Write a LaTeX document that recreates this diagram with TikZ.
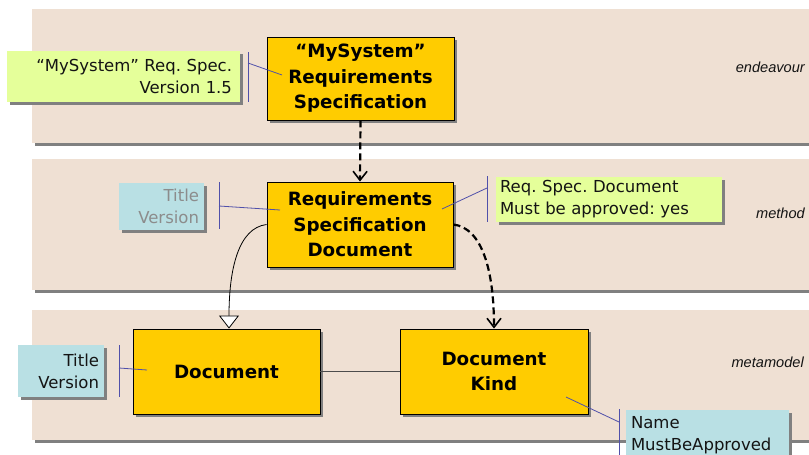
\documentclass[tikz,border=0pt]{standalone}
\usepackage{fontspec}
\setmainfont{DejaVu Sans}
\newfontfamily\lblfont{Liberation Sans}
\usetikzlibrary{arrows.meta,shadows}
\frenchspacing
\definecolor{band}{RGB}{239,224,211}
\definecolor{boxy}{RGB}{255,204,0}
\definecolor{gnotec}{RGB}{229,255,154}
\definecolor{bnotec}{RGB}{185,224,228}
\definecolor{shad}{RGB}{128,128,128}
\definecolor{tick}{RGB}{80,80,170}
\definecolor{ink}{RGB}{20,20,20}
\definecolor{greytext}{RGB}{140,140,140}
\tikzset{
  bandfill/.style={fill=band},
  bandshadow/.style={fill=shad},
  cls/.style={draw=black, line width=0.9pt, fill=boxy, align=center, inner sep=0pt,
    text=black, font=\fontsize{18.3}{25.5}\selectfont\bfseries,
    drop shadow={shadow xshift=3pt,shadow yshift=-3pt,fill=shad,opacity=1}},
  notebase/.style={inner ysep=0pt, text=ink, font=\fontsize{16.5}{22}\selectfont,
    drop shadow={shadow xshift=3pt,shadow yshift=-3pt,fill=shad,opacity=1}},
  gnote/.style={notebase, fill=gnotec},
  bnote/.style={notebase, fill=bnotec},
  tickline/.style={draw=tick, line width=0.8pt},
  lbl/.style={font=\lblfont\itshape\fontsize{14.6}{16}\selectfont, text=ink, anchor=east, inner sep=0pt},
  dep/.style={line width=2.2pt, dash pattern=on 7pt off 4pt,
    -{Straight Barb[length=9pt,width=14pt,line width=1.6pt]}},
  gen/.style={line width=0.8pt, -{Triangle[open,fill=white,length=13pt,width=20pt,line width=0.8pt]}},
  assoc/.style={draw=black!70, line width=1pt}
}
\begin{document}
\begin{tikzpicture}[x=1pt,y=-1pt]
\useasboundingbox (0,0) rectangle (809,455);
\clip (0,0) rectangle (809,455);
% bands
\fill[bandshadow] (35,12) rectangle (815,146);
\fill[bandfill] (32,9) rectangle (812,143);
\fill[bandshadow] (35,162) rectangle (815,293);
\fill[bandfill] (32,159) rectangle (812,290);
\fill[bandshadow] (35,313) rectangle (815,443);
\fill[bandfill] (32,310) rectangle (812,440);
\node[lbl] (l1) at (805,67) {endeavour};
\node[lbl] (l2) at (805,213) {method};
\node[lbl] (l3) at (804,362) {metamodel};
% classes
\node[cls, minimum width=187pt, minimum height=83pt] (b1) at (360.5,78.5) {“MySystem”\\Requirements\\Specification};
\node[cls, minimum width=186pt, minimum height=85pt] (b2) at (360,224.5) {Requirements\\Specification\\Document};
\node[cls, minimum width=187pt, minimum height=85pt] (b3) at (226.5,371.5) {Document};
\node[cls, minimum width=188pt, minimum height=85pt] (b4) at (494,371.5) {Document\\Kind};
% notes
\node[gnote, text width=217pt, inner xsep=8pt, minimum height=51pt, align=right] (n1) at (123.5,76.5) {“MySystem” Req. Spec.\\Version 1.5};
\node[bnote, text width=75pt, inner xsep=5pt, minimum height=47pt, align=right, text=greytext] (n2) at (161.5,206.5) {Title\\Version};
\node[gnote, text width=218pt, inner xsep=4pt, minimum height=45pt, align=left] (n3) at (609,199.5) {Req. Spec. Document\\Must be approved: yes};
\node[bnote, text width=76pt, inner xsep=5pt, minimum height=52pt, align=right] (n4) at (61,371) {Title\\Version};
\node[bnote, text width=153pt, inner xsep=5pt, minimum height=50pt, align=left] (n5) at (707.5,435) {Name\\MustBeApproved};
% note attachments
\coordinate (t1a) at (248,52); \coordinate (t1b) at (248,102);
\coordinate (t1c) at (248,63); \coordinate (t1d) at (282,75);
\draw[tickline] (t1a) -- (t1b); \draw[tickline] (t1c) -- (t1d);
\coordinate (t2a) at (219,182); \coordinate (t2b) at (219,229);
\coordinate (t2c) at (219,206); \coordinate (t2d) at (280,210);
\draw[tickline] (t2a) -- (t2b); \draw[tickline] (t2c) -- (t2d);
\coordinate (t3a) at (487,176); \coordinate (t3b) at (487,222);
\coordinate (t3c) at (487,188); \coordinate (t3d) at (442,209);
\draw[tickline] (t3a) -- (t3b); \draw[tickline] (t3c) -- (t3d);
\coordinate (t4a) at (119,345); \coordinate (t4b) at (119,397);
\coordinate (t4c) at (119,368); \coordinate (t4d) at (147,370);
\draw[tickline] (t4a) -- (t4b); \draw[tickline] (t4c) -- (t4d);
\coordinate (t5a) at (619,409); \coordinate (t5b) at (619,460);
\coordinate (t5c) at (619,422); \coordinate (t5d) at (566,397);
\draw[tickline] (t5a) -- (t5b); \draw[tickline] (t5c) -- (t5d);
% connectors
\draw[dep] (b1.south) -- (b2.north);
\coordinate (g1) at (238,228); \coordinate (g2) at (229,270);
\draw[gen] (b2.west) .. controls (g1) and (g2) .. ([xshift=2.5pt]b3.north);
\coordinate (d1) at (482,228); \coordinate (d2) at (494,270);
\draw[dep] (b2.east) .. controls (d1) and (d2) .. (b4.north);
\draw[assoc] (b3.east) -- (b4.west);
\end{tikzpicture}
\end{document}
